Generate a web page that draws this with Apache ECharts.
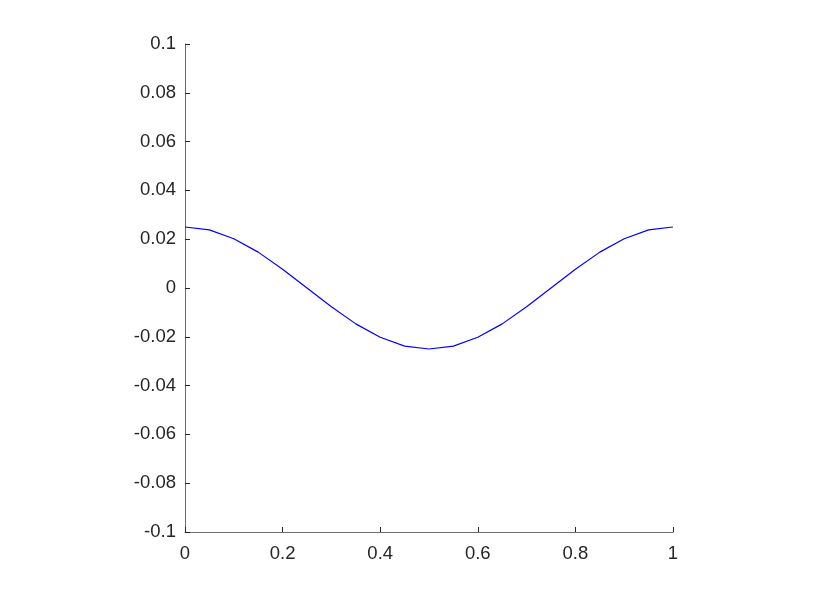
<!DOCTYPE html>
<html><head><meta charset="utf-8">
<script src="https://cdn.jsdelivr.net/npm/echarts@6/dist/echarts.min.js"></script>
<style>html,body{margin:0;padding:0;background:#fff}#c{width:830px;height:599px}</style>
</head><body><div id="c"></div>
<script>
var xValues = [0, 0.05, 0.1, 0.15, 0.2, 0.25, 0.3, 0.35, 0.4, 0.45, 0.5, 0.55, 0.6, 0.65, 0.7, 0.75, 0.8, 0.85, 0.9, 0.95, 1];
var yValues = [0.0250, 0.0238, 0.0202, 0.0147, 0.0077, 0.0000, -0.0077, -0.0147, -0.0202, -0.0238, -0.0250, -0.0238, -0.0202, -0.0147, -0.0077, 0.0000, 0.0077, 0.0147, 0.0202, 0.0238, 0.0250];
var xTicks = [0, 0.2, 0.4, 0.6, 0.8, 1];
var yTicks = [-0.1, -0.08, -0.06, -0.04, -0.02, 0, 0.02, 0.04, 0.06, 0.08, 0.1];

var chart = echarts.init(document.getElementById('c'), null, {renderer: 'canvas'});
var font = 'Liberation Sans, Arial, sans-serif';
chart.setOption({
  animation: false,
  grid: {left: 185, right: 157, top: 44, bottom: 67, containLabel: false},
  xAxis: {
    type: 'value', min: 0, max: 1, interval: 0.2,
    axisLine: {show: true, onZero: false, lineStyle: {color: '#6b6b6b', width: 1}},
    axisTick: {show: true, inside: true, length: 5, lineStyle: {color: '#262626'}},
    axisLabel: {color: '#262626', fontSize: 18.5, fontFamily: font, margin: 12,
      formatter: function (v) { return String(parseFloat(v.toFixed(4))); }},
    splitLine: {show: false}
  },
  yAxis: {
    type: 'value', min: -0.1, max: 0.1, interval: 0.02,
    axisLine: {show: true, onZero: false, lineStyle: {color: '#6b6b6b', width: 1}},
    axisTick: {show: true, inside: true, length: 5, lineStyle: {color: '#262626'}},
    axisLabel: {color: '#262626', fontSize: 18.5, fontFamily: font, margin: 9,
      formatter: function (v) { return String(parseFloat(v.toFixed(4))); }},
    splitLine: {show: false}
  },
  series: [{
    type: 'line',
    data: xValues.map(function (x, i) { return [x, yValues[i]]; }),
    showSymbol: false,
    lineStyle: {color: '#0000ff', width: 1.2},
    itemStyle: {color: '#0000ff'}
  }]
});
</script>
</body></html>
